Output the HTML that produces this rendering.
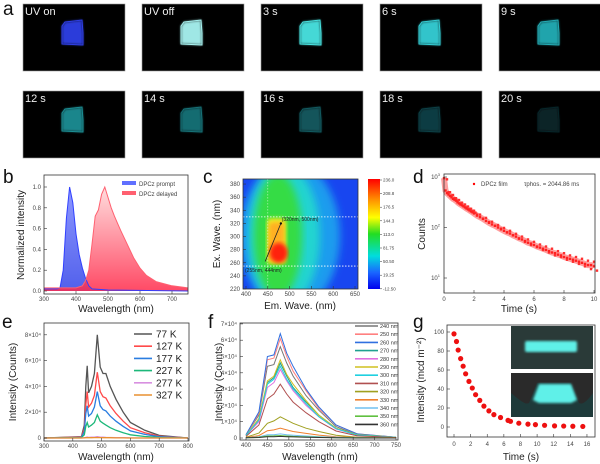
<!DOCTYPE html>
<html><head><meta charset="utf-8">
<style>
html,body{margin:0;padding:0;background:#fff;}
svg{display:block;font-family:"Liberation Sans",sans-serif;}
.tk{font-size:6px;fill:#444;}
.al{font-size:10px;fill:#222;}
.pl{font-size:19px;fill:#111;}
</style></head>
<body>
<svg id="fig" width="600" height="464" viewBox="0 0 600 464" xmlns="http://www.w3.org/2000/svg">
<defs>
<linearGradient id="gBlue" x1="0" y1="0" x2="0" y2="1"><stop offset="0" stop-color="#7a86ff"/><stop offset="1" stop-color="#3344e8"/></linearGradient>
<linearGradient id="gRed" x1="0" y1="0" x2="0" y2="1"><stop offset="0" stop-color="#ffd8d8"/><stop offset="1" stop-color="#ff2a4a"/></linearGradient>
<linearGradient id="gCbar" x1="0" y1="0" x2="0" y2="1"><stop offset="0" stop-color="#ff0000"/><stop offset="0.2" stop-color="#ff9900"/><stop offset="0.35" stop-color="#ffff00"/><stop offset="0.5" stop-color="#22dd22"/><stop offset="0.7" stop-color="#00dddd"/><stop offset="0.85" stop-color="#1a66ff"/><stop offset="1" stop-color="#0000ee"/></linearGradient>
<filter id="blur4"><feGaussianBlur stdDeviation="4"/></filter>
<filter id="blur2"><feGaussianBlur stdDeviation="2"/></filter>
<filter id="glow"><feGaussianBlur stdDeviation="1.2"/></filter>
<clipPath id="clipC"><rect x="243" y="179" width="115" height="110"/></clipPath>
</defs>
<g id="panelA"></g>
<g id="panelB"></g>
<g id="panelC"></g>
<g id="panelD"></g>
<g id="panelE"></g>
<g id="panelF"></g>
<g id="panelG"></g>
</svg>
<script>
// ---- Panel a data ----
const aLabels=["UV on","UV off","3 s","6 s","9 s","12 s","14 s","16 s","18 s","20 s"];
const aColors=["#2f3fe6","#a8f4f2","#48e4e2","#34cfd6","#24adb6","#1c8e94","#177278","#125a60","#0d4046","#07262a"];
// ---- Panel b data ----
const bPromptWl=[300,340,350,360,370,380,390,400,410,420,430,440,450,500,750];
const bPrompt=[0.02,0.02,0.03,0.2,0.7,1.0,0.85,0.55,0.35,0.22,0.12,0.05,0.02,0.01,0.0];
const bDelayedWl=[300,400,420,430,440,450,460,470,480,490,500,510,520,530,540,560,580,600,620,650,700,750];
const bDelayed=[0.03,0.03,0.05,0.1,0.2,0.45,0.72,0.78,0.93,1.0,0.9,0.8,0.72,0.65,0.58,0.45,0.32,0.22,0.15,0.09,0.05,0.03];
const bXTicks=[300,400,500,600,700];
const bYTicks=[0,0.2,0.4,0.6,0.8,1.0];
// ---- Panel c data ----
const cXTicks=[400,450,500,550,600,650];
const cYTicks=[220,240,260,280,300,320,340,360,380];
const cBarLabels=["236.0","208.8","176.5","144.3","113.0","81.75","50.50","19.25","-12.50"];
// ---- Panel d data ----
const dTimes=[0,0.1,0.2,0.3,0.4,0.5,0.6,0.7,0.8,0.9,1,1.1,1.2,1.3,1.4,1.5,1.6,1.7,1.8,1.9,2,2.2,2.4,2.6,2.8,3,3.2,3.4,3.6,3.8,4,4.2,4.4,4.6,4.8,5,5.2,5.4,5.6,5.8,6,6.2,6.4,6.6,6.8,7,7.2,7.4,7.6,7.8,8,8.2,8.4,8.6,8.8,9,9.2,9.4,9.6,9.8,10];
const dCounts=[950,540,480,450,420,395,370,355,340,315,300,285,275,262,250,238,228,218,208,200,190,172,160,148,135,124,115,108,100,92,86,80,76,70,66,61,58,54,50,48,45,42,40,38,36,34,32,31,29,28,26,25,24,23,22,21,20,19,18,18,17];
const dNoise=[900,500,500,430,440,380,380,340,350,300,310,270,285,250,260,230,235,210,215,195,180,180,150,155,128,130,108,112,95,98,80,86,70,75,60,66,52,58,45,52,41,46,36,42,32,38,28,34,26,31,23,28,21,26,19,24,17,22,15,21,14];
const dXTicks=[0,2,4,6,8,10];
const dYTicks=[1,2,3];
// ---- Panel e data ----
const eWl=[300,430,440,445,450,455,465,475,485,495,505,515,530,550,575,600,650,700,800];
const eSeriesNames=["77 K","127 K","177 K","227 K","277 K","327 K"];
const eColors=["#555555","#ff4a4a","#2a7de0","#1db87a","#d890e0","#e89030"];
const e77=[0,0.1,1,4,5.6,3.5,4,5,8,5.5,5,5,4,3,2,1.2,0.6,0.2,0];
const e127=[0,0.08,0.7,2.6,3.6,2.4,2.7,3.3,5.1,3.6,3.2,3.1,2.5,1.9,1.3,0.8,0.4,0.15,0];
const e177=[0,0.05,0.5,1.9,2.5,1.7,1.9,2.4,3.6,2.5,2.2,2.1,1.7,1.3,0.9,0.55,0.28,0.1,0];
const e227=[0,0.03,0.25,0.9,1.2,0.85,1.0,1.2,1.8,1.3,1.15,1.0,0.8,0.6,0.4,0.25,0.12,0.05,0];
const e277=[0,0,0.02,0.05,0.08,0.05,0.06,0.07,0.1,0.07,0.06,0.05,0.04,0.03,0.02,0.01,0,0,0];
const e327=[0,0,0.01,0.02,0.03,0.02,0.02,0.03,0.04,0.03,0.02,0.02,0.02,0.01,0.01,0,0,0,0];
const eXTicks=[300,400,500,600,700,800];
const eYTicks=[0,2,4,6,8];
// ---- Panel f data ----
const fWl=[400,430,450,465,480,495,510,540,570,610,660,750];
const fNames=["240 nm","250 nm","260 nm","270 nm","280 nm","290 nm","300 nm","310 nm","320 nm","330 nm","340 nm","350 nm","360 nm"];
const fColors=["#777777","#ff8080","#3070e0","#20a090","#e070e0","#d0c020","#20d0e0","#b05050","#a0a020","#f08030","#70c0f0","#60c040","#333333"];
const f240=[0.2,1.4,4.4,4.5,5.6,4.6,3.8,2.6,1.7,0.7,0.2,0.05];
const f250=[0.2,1.5,4.8,4.9,6.1,5.0,4.1,2.9,1.8,0.8,0.25,0.05];
const f260=[0.2,1.6,5.0,5.1,6.4,5.2,4.4,3.0,1.9,0.8,0.25,0.05];
const f270=[0.15,1.1,3.4,3.7,4.6,3.8,3.1,2.2,1.4,0.6,0.2,0.05];
const f280=[0.15,1.0,3.1,3.4,4.2,3.5,2.9,2.0,1.3,0.55,0.18,0.05];
const f290=[0.15,1.2,3.5,3.8,4.8,3.9,3.3,2.3,1.4,0.6,0.2,0.05];
const f300=[0.15,1.1,3.3,3.6,4.4,3.6,3.0,2.1,1.3,0.57,0.18,0.05];
const f310=[0.1,0.8,2.4,2.7,3.3,2.7,2.2,1.55,1.0,0.43,0.13,0.03];
const f320=[0.05,0.3,0.9,1.05,1.3,1.1,0.9,0.6,0.4,0.17,0.05,0.01];
const f330=[0.03,0.15,0.45,0.5,0.6,0.5,0.4,0.28,0.18,0.08,0.03,0.01];
const f340=[0.02,0.07,0.2,0.2,0.25,0.2,0.17,0.12,0.08,0.04,0.01,0];
const f350=[0.01,0.04,0.12,0.13,0.15,0.12,0.1,0.07,0.05,0.02,0.01,0];
const f360=[0.01,0.03,0.08,0.08,0.1,0.08,0.07,0.05,0.03,0.01,0,0];
const fXTicks=[400,450,500,550,600,650,700,750];
const fYTicks=[0,1,2,3,4,5,6,7];
// ---- Panel g data ----
const gTimes=[0,0.3,0.5,0.8,1.1,1.4,1.8,2.2,2.6,3.1,3.6,4.2,4.8,5.6,6.5,6.8,7.8,8.9,9.8,10.9,12.1,13.2,14.3,15.5];
const gValues=[98,90,81,72,64,56,48,41,34,28,22,17,13,10,7,6,4,3,2.5,1.8,1.2,1,0.8,0.6];
const gXTicks=[0,2,4,6,8,10,12,14,16];
const gYTicks=[0,20,40,60,80,100];

const NS="http://www.w3.org/2000/svg";
function el(tag,attrs,parent){const e=document.createElementNS(NS,tag);for(const k in attrs)e.setAttribute(k,attrs[k]);parent.appendChild(e);return e;}
function txt(s,x,y,cls,parent,anchor){const t=el('text',{x:x,y:y,class:cls,'text-anchor':anchor||'middle'},parent);t.textContent=s;return t;}
function pathOf(xs,ys,fx,fy){return xs.map((v,i)=>(i?'L':'M')+fx(v).toFixed(1)+','+fy(ys[i]).toFixed(1)).join('');}

// ===== Panel a =====
const pA=document.getElementById('panelA');
let lab=txt('a',3,15,'pl',pA,'start');


aLabels.forEach((s,i)=>{
  const col=i%5,row=Math.floor(i/5);
  const x0=23+col*119,y0=4+row*87;
  const g=el('g',{},pA);
  
  
  el('rect',{x:x0,y:y0,width:102,height:67,fill:'#000',stroke:'#999','stroke-width':0.6},g);
  const sx=x0+39,sy=y0+16;
  const pts=[[sx+3,sy+2],[sx+20,sy],[sx+21,sy+13],[sx+21,sy+25],[sx,sy+24],[sx,sy+6]].map(p=>p.join(',')).join(' ');
  el('polygon',{points:pts,fill:aColors[i],filter:'url(#glow)',opacity:0.95},g);
  el('polygon',{points:pts,fill:'none',stroke:aColors[i],'stroke-width':1},g);
  const t=txt(s,x0+2,y0+11,'',g,'start');
  t.setAttribute('style','font-size:11px;fill:#eee');
  
  
});

function axesBox(p,x,y,w,h){el('rect',{x:x,y:y,width:w,height:h,fill:'none',stroke:'#333','stroke-width':0.8},p);}

// ===== Panel b =====
const pB=document.getElementById('panelB');
const bx=w=>44+(w-300)*0.32, by=v=>291-v*104;
lab=txt('b',3,183,'pl',pB,'start');


let ar=el('path',{d:pathOf(bPromptWl,bPrompt,bx,by)+'L'+bx(750)+','+by(0)+'L'+bx(300)+','+by(0)+'Z',fill:'url(#gBlue)',opacity:0.85},pB);


ar=el('path',{d:pathOf(bDelayedWl,bDelayed,bx,by)+'L'+bx(750)+','+by(0)+'L'+bx(300)+','+by(0)+'Z',fill:'url(#gRed)',opacity:0.85},pB);


el('path',{d:pathOf(bPromptWl,bPrompt,bx,by),fill:'none',stroke:'#3040ff','stroke-width':1},pB);
el('path',{d:pathOf(bDelayedWl,bDelayed,bx,by),fill:'none',stroke:'#ff6070','stroke-width':1},pB);
axesBox(pB,44,175,144,119);
bXTicks.forEach(v=>{el('line',{x1:bx(v),x2:bx(v),y1:294,y2:291,stroke:'#333','stroke-width':0.6},pB);txt(v,bx(v),301,'tk',pB);});
bYTicks.forEach(v=>{el('line',{x1:44,x2:47,y1:by(v),y2:by(v),stroke:'#333','stroke-width':0.6},pB);txt(v.toFixed(1),41,by(v)+2,'tk',pB,'end');});
txt('Wavelength (nm)',116,312,'al',pB);
let yl=txt('Normalized intensity',0,0,'al',pB);yl.setAttribute('transform','translate(24,235) rotate(-90)');
el('rect',{x:122,y:181,width:14,height:4,fill:'#6070ff'},pB);
el('rect',{x:122,y:191,width:14,height:4,fill:'#ff6070'},pB);
txt('DPCz  prompt',139,186,'tk',pB,'start');
txt('DPCz  delayed',139,196,'tk',pB,'start');

// ===== Panel c =====
const pC=document.getElementById('panelC');
const cx=w=>246+(w-400)*0.436, cy=v=>289-(v-220)*0.656;
lab=txt('c',203,183,'pl',pC,'start');


const hm=el('g',{'clip-path':'url(#clipC)'},pC);


el('rect',{x:243,y:179,width:115,height:110,fill:'#1846f0'},hm);
el('ellipse',{cx:290,cy:236,rx:50,ry:75,fill:'#1a9cee',filter:'url(#blur4)'},hm);
el('ellipse',{cx:284,cy:236,rx:36,ry:70,fill:'#22d4d0',filter:'url(#blur4)'},hm);
el('ellipse',{cx:278,cy:236,rx:24,ry:62,fill:'#34dc44',filter:'url(#blur4)'},hm);
el('rect',{x:cx(448),y:cy(328),width:cx(492)-cx(448),height:cy(258)-cy(328),rx:4,fill:'#f0f020',filter:'url(#blur2)'},hm);
el('rect',{x:cx(452),y:cy(322),width:cx(488)-cx(452),height:cy(262)-cy(322),rx:4,fill:'#ffb020',filter:'url(#blur2)'},hm);
el('ellipse',{cx:cx(475),cy:cy(275),rx:9,ry:10,fill:'#ff2010',filter:'url(#blur2)'},hm);
el('line',{x1:243,x2:358,y1:cy(330),y2:cy(330),stroke:'#fff','stroke-width':0.8,'stroke-dasharray':'1.5,1.5'},hm);
el('line',{x1:243,x2:358,y1:cy(255),y2:cy(255),stroke:'#fff','stroke-width':0.8,'stroke-dasharray':'1.5,1.5'},hm);
el('line',{x1:cx(450),x2:cx(450),y1:179,y2:289,stroke:'#fff','stroke-width':0.6,'stroke-dasharray':'1.5,1.5',opacity:0.7},hm);
el('line',{x1:cx(444),y1:cy(262),x2:cx(480),y2:cy(320),stroke:'#222','stroke-width':0.8},hm);
el('circle',{cx:cx(480),cy:cy(320),r:1.2,fill:'#111'},hm);
txt('(320nm, 500nm)',cx(482),cy(324),'',hm,'start').setAttribute('style','font-size:5px;fill:#222');
txt('(255nm, 444nm)',245,cy(246),'',hm,'start').setAttribute('style','font-size:5px;fill:#222');
axesBox(pC,243,179,115,110);
cXTicks.forEach(v=>{el('line',{x1:cx(v),x2:cx(v),y1:289,y2:286,stroke:'#333','stroke-width':0.6},pC);txt(v,cx(v),296,'tk',pC);});
cYTicks.forEach(v=>{el('line',{x1:243,x2:246,y1:cy(v),y2:cy(v),stroke:'#333','stroke-width':0.6},pC);txt(v,240,cy(v)+2,'tk',pC,'end');});
txt('Em. Wave. (nm)',300,309,'al',pC);
yl=txt('Ex. Wave. (nm)',0,0,'al',pC);yl.setAttribute('transform','translate(220,234) rotate(-90)');
let cb=el('rect',{x:368,y:179,width:12,height:110,fill:'url(#gCbar)'},pC);


cBarLabels.forEach((s,i)=>{const y=180+i*13.6;el('line',{x1:380,x2:382,y1:y,y2:y,stroke:'#333','stroke-width':0.5},pC);txt(s,383,y+1.5,'',pC,'start').setAttribute('style','font-size:4.5px;fill:#444');});

// ===== Panel d =====
const pD=document.getElementById('panelD');
const dx=t=>444+t*15, dy=c=>177+(3-Math.log10(c))*50.5;
lab=txt('d',413,183,'pl',pD,'start');


const dg=el('g',{},pD);


el('path',{d:pathOf(dTimes,dCounts,dx,dy),fill:'none',stroke:'#ff5050','stroke-width':6,opacity:0.55},dg);
dTimes.forEach((t,i)=>{
  let r=el('rect',{x:dx(t)-1.2,y:dy(dCounts[i])-1.2,width:2.4,height:2.4,fill:'#ff2020'},dg);
  
  
  el('rect',{x:dx(t)+3-1.2,y:dy(dNoise[i])-1.2,width:2.4,height:2.4,fill:'#ff3030'},dg);
});
axesBox(pD,444,174,151,119);
dXTicks.forEach(v=>{el('line',{x1:dx(v),x2:dx(v),y1:293,y2:290,stroke:'#333','stroke-width':0.6},pD);txt(v,dx(v),301,'tk',pD);});
dYTicks.forEach(v=>{const y=177+(3-v)*50.5;el('line',{x1:444,x2:447,y1:y,y2:y,stroke:'#333','stroke-width':0.6},pD);const t=txt('10',440,y+2,'tk',pD,'end');const s=el('tspan',{dy:-3,style:'font-size:4px'},t);s.textContent=v;});
txt('Time (s)',519,312,'al',pD);
yl=txt('Counts',0,0,'al',pD);yl.setAttribute('transform','translate(425,234) rotate(-90)');
el('circle',{cx:474,cy:184,r:1.2,fill:'#f00'},pD);
txt('DPCz  film',481,186,'tk',pD,'start');
txt('τphos. = 2044.86 ms',524,186,'tk',pD,'start');

// ===== Panel e =====
const pE=document.getElementById('panelE');
const ex=w=>44+(w-300)*0.288, ey=v=>438-v*12.9;
lab=txt('e',2,328,'pl',pE,'start');


const eSeries=[e77,e127,e177,e227,e277,e327];
eSeries.forEach((s,i)=>{
  let p=el('path',{d:pathOf(eWl,s,ex,ey),fill:'none',stroke:eColors[i],'stroke-width':1.3},pE);
  
  
  const ly=334+i*12.2;
  el('line',{x1:134,x2:152,y1:ly,y2:ly,stroke:eColors[i],'stroke-width':1.6},pE);
  let t=txt(eSeriesNames[i],156,ly+3.5,'',pE,'start');t.setAttribute('style','font-size:10px;fill:#222');
  
  
});
axesBox(pE,44,323,145,118);
eXTicks.forEach(v=>{el('line',{x1:ex(v),x2:ex(v),y1:441,y2:438,stroke:'#333','stroke-width':0.6},pE);txt(v,ex(v),448,'tk',pE);});
eYTicks.forEach(v=>{el('line',{x1:44,x2:47,y1:ey(v),y2:ey(v),stroke:'#333','stroke-width':0.6},pE);txt(v===0?'0':v+'×10⁴',41,ey(v)+2,'tk',pE,'end');});
txt('Wavelength (nm)',116,460,'al',pE);
yl=txt('Intensity (Counts)',0,0,'al',pE);yl.setAttribute('transform','translate(16,382) rotate(-90)');

// ===== Panel f =====
const pF=document.getElementById('panelF');
const fx=w=>246+(w-400)*0.4286, fy=v=>438-v*16.3;
lab=txt('f',208,328,'pl',pF,'start');


const fSeries=[f240,f250,f260,f270,f280,f290,f300,f310,f320,f330,f340,f350,f360];
fSeries.forEach((s,i)=>{
  let p=el('path',{d:pathOf(fWl,s,fx,fy),fill:'none',stroke:fColors[i],'stroke-width':1},pF);
  
  
  const ly=326+i*8.2;
  el('line',{x1:355,x2:378,y1:ly,y2:ly,stroke:fColors[i],'stroke-width':1.6},pF);
  let t=txt(fNames[i],380,ly+2,'',pF,'start');t.setAttribute('style','font-size:5.5px;fill:#333');
  
  
});
axesBox(pF,240,323,158,117);
fXTicks.forEach(v=>{el('line',{x1:fx(v),x2:fx(v),y1:440,y2:437,stroke:'#333','stroke-width':0.6},pF);txt(v,fx(v),447,'tk',pF);});
fYTicks.forEach(v=>{el('line',{x1:240,x2:243,y1:fy(v),y2:fy(v),stroke:'#333','stroke-width':0.6},pF);txt(v===0?'0':v+'×10⁴',237,fy(v)+2,'tk',pF,'end');});
txt('Wavelength (nm)',320,460,'al',pF);
yl=txt('Intensity (Counts)',0,0,'al',pF);yl.setAttribute('transform','translate(222,382) rotate(-90)');

// ===== Panel g =====
const pG=document.getElementById('panelG');
const gx=t=>454+t*8.31, gy=v=>427-v*0.95;
lab=txt('g',413,328,'pl',pG,'start');


axesBox(pG,447,325,148,112);
const ins1=el('g',{},pG);


el('rect',{x:511,y:326,width:82,height:43,fill:'#2a3a38'},ins1);
el('rect',{x:525,y:341,width:52,height:11,rx:2,fill:'#5ff0e8',filter:'url(#glow)'},ins1);
const ins2=el('g',{},pG);


el('rect',{x:511,y:373,width:82,height:44,fill:'#1e3a3a'},ins2);
el('path',{d:'M511,373h82v20c-6,8,-10,12,-14,10l-8,-20h-34l-8,20c-4,2,-8,-2,-18,-10z',fill:'#2a2a2a'},ins2);
el('path',{d:'M533,400l6,-16h32l6,16l-6,3h-32z',fill:'#5ff0e8',filter:'url(#glow)'},ins2);
gTimes.forEach((t,i)=>{
  let c=el('circle',{cx:gx(t),cy:gy(gValues[i]),r:2.6,fill:'#ee1010'},pG);
  
  
});
gXTicks.forEach(v=>{el('line',{x1:gx(v),x2:gx(v),y1:437,y2:434,stroke:'#333','stroke-width':0.6},pG);txt(v,gx(v),446,'tk',pG);});
gYTicks.forEach(v=>{el('line',{x1:447,x2:450,y1:gy(v),y2:gy(v),stroke:'#333','stroke-width':0.6},pG);txt(v,444,gy(v)+2,'tk',pG,'end');});
txt('Time (s)',521,460,'al',pG);
yl=txt('Intensity (mcd m⁻²)',0,0,'al',pG);yl.setAttribute('transform','translate(424,380) rotate(-90)');
</script>
</body></html>
